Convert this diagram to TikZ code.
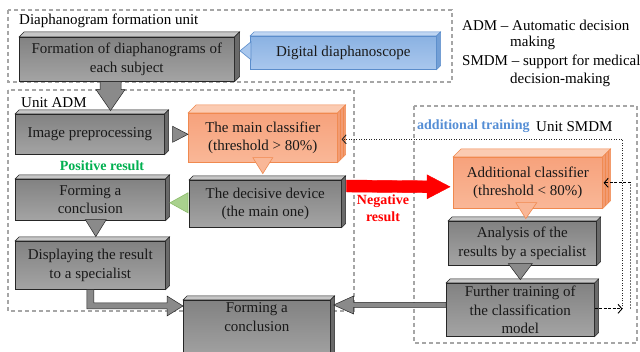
\documentclass[tikz,border=0pt]{standalone}
\usepackage{fontspec}
\setmainfont{Liberation Serif}
\usetikzlibrary{arrows.meta,calc}
\definecolor{gTop}{HTML}{828282}
\definecolor{gBot}{HTML}{A4A4A4}
\definecolor{gFace}{HTML}{C6C6C6}
\definecolor{gSide}{HTML}{6A6A6A}
\definecolor{gLine}{HTML}{262626}
\definecolor{gArr}{HTML}{8A8A8A}
\definecolor{oTop}{HTML}{F7A27C}
\definecolor{oBot}{HTML}{F9B797}
\definecolor{oFace}{HTML}{FBCBB2}
\definecolor{oSide}{HTML}{F29B72}
\definecolor{oLine}{HTML}{F0894F}
\definecolor{bTop}{HTML}{8BB2E2}
\definecolor{bBot}{HTML}{A9C7ED}
\definecolor{bFace}{HTML}{C0D6F2}
\definecolor{bSide}{HTML}{739FD6}
\definecolor{bLine}{HTML}{5B8DCB}
\definecolor{regGray}{HTML}{A6A6A6}
\definecolor{posGreen}{HTML}{00B050}
\definecolor{trBlue}{HTML}{558ED5}
\definecolor{grL}{HTML}{A9D18E}
\definecolor{grD}{HTML}{8DBE6C}
\newcommand{\facesthreed}[5]{%
  \filldraw[fill=#3,draw=#5,line width=0.5pt] (#1.north west) -- ++(#2,-#2) -- ($(#1.north east)+(#2,-#2)$) -- (#1.north east) -- cycle;
  \filldraw[fill=#4,draw=#5,line width=0.5pt] (#1.north east) -- ($(#1.north east)+(#2,-#2)$) -- ($(#1.south east)+(#2,-#2)$) -- (#1.south east) -- cycle;}
\tikzset{
  boxtext/.style={align=center, font=\fontsize{15}{18.5}\selectfont, text=black!90, inner sep=0pt, anchor=north west},
  gbox/.style={boxtext, draw=gLine, line width=0.6pt, top color=gTop, bottom color=gBot},
  obox/.style={boxtext, draw=oLine, line width=0.6pt, top color=oTop, bottom color=oBot},
  bbox/.style={boxtext, draw=bLine, line width=0.6pt, top color=bTop, bottom color=bBot},
  region/.style={draw=regGray, line width=1.1pt, dash pattern=on 4pt off 3pt},
  lbl/.style={font=\fontsize{15}{18}\selectfont, inner sep=0pt, text=black, anchor=west},
  blbl/.style={font=\fontsize{14}{17}\selectfont\bfseries, inner sep=0pt, align=center},
  garrow/.style={fill=gArr, draw=gLine, line width=0.5pt},
  fbdot/.style={draw=black!85, line width=0.9pt, dash pattern=on 1pt off 1.5pt},
  fbdot2/.style={draw=black!55, line width=1.1pt, dash pattern=on 1.5pt off 1.5pt},
  fbdash/.style={draw=black, line width=0.9pt, dash pattern=on 3pt off 1.5pt},
  barb/.style={-{Straight Barb[length=4pt,width=9pt]}}
}
\begin{document}
\begin{tikzpicture}[x=1pt,y=-1pt]
\clip (0,0) rectangle (640,352);
\fill[white] (0,0) rectangle (640,352);
% regions
\draw[region] (8,10) rectangle (452,82);
\draw[region] (8,90) rectangle (354,311);
\draw[region] (414,106) rectangle (637,343);
% labels
\node[lbl] (ldfu) at (19,21) {Diaphanogram formation unit};
\node[lbl] (ladm) at (21,103) {Unit ADM};
\node[lbl] (lsmdm) at (536,127) {Unit SMDM};
\node[blbl, anchor=west, text=trBlue] (ltrain) at (417,126) {additional training};
\node[blbl, text=posGreen] (lpos) at (102,166) {Positive result};
\node[blbl, text=red] (lneg) at (383,208) {Negative\\result};
\node[lbl] (lg1) at (462,25) {ADM – Automatic decision};
\node[lbl] (lg2) at (510,43) {making};
\node[lbl] (lg3) at (462,62) {SMDM – support for medical};
\node[lbl] (lg4) at (510,80) {decision-making};
% boxes
\node[gbox, minimum width=215, minimum height=44] (form) at (19,37) {Formation of diaphanograms of\\each subject};
\facesthreed{form}{5}{gFace}{gSide}{gLine}
\node[bbox, minimum width=186, minimum height=33] (diaph) at (250,36) {Digital diaphanoscope};
\facesthreed{diaph}{4}{bFace}{bSide}{bLine}
\node[gbox, minimum width=149, minimum height=40] (prep) at (15,114) {Image preprocessing};
\facesthreed{prep}{4}{gFace}{gSide}{gLine}
\node[obox, minimum width=149, minimum height=49] (mainc) at (188,113) {The main classifier\\(threshold > 80\%)};
\facesthreed{mainc}{8}{oFace}{oSide}{oLine}
\draw[oLine, line width=0.4pt] ($(mainc.north east)+(3,-3)$) -- ($(mainc.south east)+(3,-3)$);
\draw[oLine, line width=0.4pt] ($(mainc.north east)+(5.5,-5.5)$) -- ($(mainc.south east)+(5.5,-5.5)$);
\node[gbox, minimum width=150, minimum height=41] (concl1) at (15,179) {Forming a\\conclusion};
\facesthreed{concl1}{4}{gFace}{gSide}{gLine}
\node[gbox, minimum width=152, minimum height=47] (decis) at (189,180) {The decisive device\\(the main one)};
\facesthreed{decis}{4}{gFace}{gSide}{gLine}
\node[gbox, minimum width=150, minimum height=48] (disp) at (15,241) {Displaying the result\\to a specialist};
\facesthreed{disp}{4}{gFace}{gSide}{gLine}
\node[gbox, minimum width=147, minimum height=60, text depth=0pt] (concl2) at (183,300) {Forming a\\conclusion\\[8pt]};
\facesthreed{concl2}{4}{gFace}{gSide}{gLine}
\node[obox, minimum width=149, minimum height=51] (addc) at (453,157) {Additional classifier\\(threshold < 80\%)};
\facesthreed{addc}{8}{oFace}{oSide}{oLine}
\draw[oLine, line width=0.4pt] ($(addc.north east)+(3,-3)$) -- ($(addc.south east)+(3,-3)$);
\draw[oLine, line width=0.4pt] ($(addc.north east)+(5.5,-5.5)$) -- ($(addc.south east)+(5.5,-5.5)$);
\node[gbox, minimum width=148, minimum height=44] (anal) at (448,221) {Analysis of the\\results by a specialist};
\facesthreed{anal}{4}{gFace}{gSide}{gLine}
\node[gbox, minimum width=148, minimum height=53] (train) at (446,283) {Further training of\\the classification\\model};
\facesthreed{train}{4}{gFace}{gSide}{gLine}
% arrows
\coordinate (d1) at ($(form.south west)+(91.5,0)$);
\filldraw[garrow] ($(d1)+(-10.5,0)$) -- ($(d1)+(10.5,0)$) -- ($(d1)+(10.5,8)$) -- ($(d1)+(14.5,8)$) -- ($(d1)+(0,29)$) -- ($(d1)+(-14.5,8)$) -- ($(d1)+(-10.5,8)$) -- cycle;
\filldraw[fill=bBot, draw=bLine, line width=0.6pt] ($(diaph.west)+(1,-11)$) -- ($(diaph.west)+(1,7)$) -- ($(diaph.west)+(-10,-2)$) -- cycle;
\filldraw[garrow] ($(prep.east)+(8,-8)$) -- ($(prep.east)+(8,8)$) -- (prep.east -| mainc.west) -- cycle;
\filldraw[fill=oBot, draw=oLine, line width=0.6pt] ($(mainc.south)+(-10,-5)$) -- ($(mainc.south)+(10,-5)$) -- ($(mainc.south)+(0,11)$) -- cycle;
\filldraw[fill=grL, draw=grD, line width=0.6pt] ($(decis.west)+(-1,-11)$) -- ($(decis.west)+(-1,9)$) -- ($(decis.west)+(-19,-1)$) -- cycle;
\filldraw[garrow] ($(concl1.south)+(-5,-1)$) -- ($(concl1.south)+(16,-1)$) -- ($(concl1.south)+(5.5,16)$) -- cycle;
\filldraw[garrow] ($(disp.south)+(-3.5,0)$) |- ($(concl2.north west)+(-16,9)$) -- ($(concl2.north west)+(-16,16)$) -- ($(concl2.north west)+(0,6)$) -- ($(concl2.north west)+(-16,-4)$) -- ($(concl2.north west)+(-16,3)$) -| ($(disp.south)+(3.5,0)$) -- cycle;
\coordinate (t2) at ($(concl2.north east)+(3,5)$);
\filldraw[garrow] (t2) -- ($(t2)+(20,-9)$) -- ($(t2)+(20,-2.5)$) -- ($(t2 -| train.west)+(0,-2.5)$) -- ($(t2 -| train.west)+(0,2.5)$) -- ($(t2)+(20,2.5)$) -- ($(t2)+(20,9)$) -- cycle;
\filldraw[fill=oBot, draw=oLine, line width=0.6pt] ($(addc.south)+(-12,-6)$) -- ($(addc.south)+(9,-6)$) -- ($(addc.south)+(-2,10)$) -- cycle;
\filldraw[garrow] ($(anal.south)+(-14,-2)$) -- ($(anal.south)+(10,-2)$) -- ($(anal.south)+(-2,14)$) -- cycle;
\coordinate (r0) at ($(decis.north east)+(5,6)$);
\coordinate (r1) at ($(addc.west)+(-3,4)$);
\filldraw[fill=red, draw=red] ($(r0)+(0,-6)$) -- ($(r1)+(-23,-6)$) -- ($(r1)+(-23,-12)$) -- (r1) -- ($(r1)+(-23,12)$) -- ($(r1)+(-23,6)$) -- ($(r0)+(0,6)$) -- cycle;
% feedback lines
\coordinate (j1) at ($(train.east)+(28,-1)$);
\coordinate (j2) at ($(train.east)+(36,-1)$);
\draw[fbdash, barb] ($(train.east)+(0,-1)$) -- (j1);
\draw[fbdot, barb] (j1) |- ($(mainc.east)+(4,1.5)$);
\draw[fbdot2] (j2) -- (j2 |- addc.east);
\draw[fbdash, barb] (j2 |- addc.east) -- ($(addc.east)+(1,0)$);
\end{tikzpicture}
\end{document}
